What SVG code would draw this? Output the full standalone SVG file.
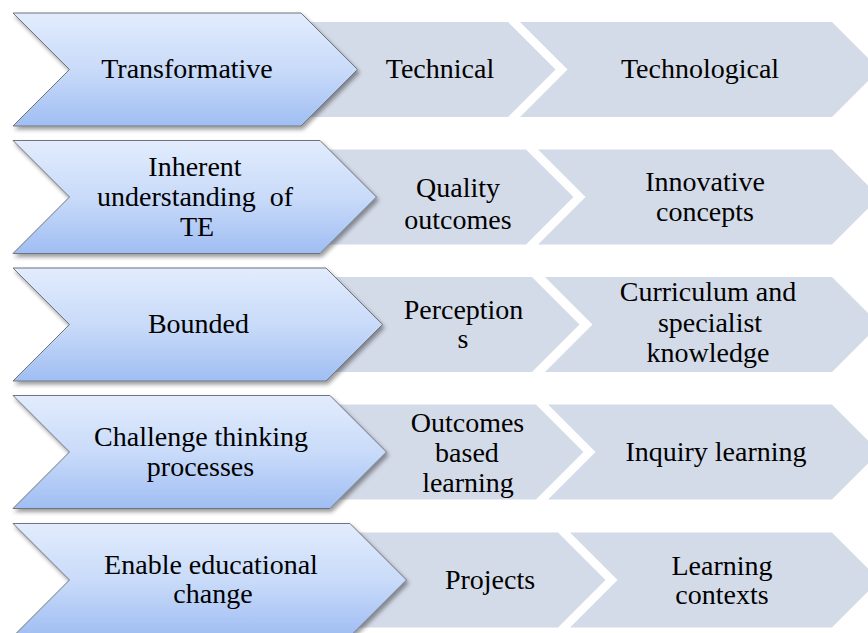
<svg xmlns="http://www.w3.org/2000/svg" width="868" height="633" viewBox="0 0 868 633">
  <defs>
    <linearGradient id="blueGrad" x1="0" y1="0" x2="0" y2="1">
      <stop offset="0" stop-color="#e2ecfd"/>
      <stop offset="0.5" stop-color="#c9dbf9"/>
      <stop offset="1" stop-color="#a0bef3"/>
    </linearGradient>
    <filter id="shadow" x="-5%" y="-10%" width="115%" height="130%">
      <feDropShadow dx="2" dy="3" stdDeviation="2" flood-color="#000" flood-opacity="0.4"/>
    </filter>
    <style>
      .blue { fill: url(#blueGrad); stroke: #6f747c; stroke-width: 1; filter: url(#shadow); }
      .gray { fill: #d4dbe8; stroke: none; }
      .lbl { font-family: "Liberation Serif", "Times New Roman", Tinos, "Noto Serif", "DejaVu Serif", serif; font-size: 28px; fill: #000; text-anchor: middle; }
    </style>
  </defs>
  <rect width="868" height="633" fill="#ffffff"/>

  <!-- Row 1 -->
  <g id="technological">
    <polygon class="gray" points="520,22 832,22 879.5,69.5 832,117 520,117 567.5,69.5"/>
    <text class="lbl" x="700" y="78">Technological</text>
  </g>
  <g id="technical">
    <polygon class="gray" points="300,22 508,22 555.5,69.5 508,117 300,117"/>
    <text class="lbl" x="440" y="78">Technical</text>
  </g>
  <g id="transformative">
    <polygon class="blue" points="13,13 301,13 357.5,69.5 301,126 13,126 69.5,69.5"/>
    <text class="lbl" x="187" y="78">Transformative</text>
  </g>

  <!-- Row 2 -->
  <g id="innovative-concepts">
    <polygon class="gray" points="538,149.5 832,149.5 879.5,197 832,244.5 538,244.5 585.5,197"/>
    <text class="lbl" x="705" y="191">Innovative</text>
    <text class="lbl" x="705" y="221">concepts</text>
  </g>
  <g id="quality-outcomes">
    <polygon class="gray" points="300,149.5 526,149.5 573.5,197 526,244.5 300,244.5"/>
    <text class="lbl" x="458" y="197">Quality</text>
    <text class="lbl" x="458" y="229">outcomes</text>
  </g>
  <g id="inherent-understanding">
    <polygon class="blue" points="13,140.5 320,140.5 376.5,197 320,253.5 13,253.5 69.5,197"/>
    <text class="lbl" x="195" y="175.5">Inherent</text>
    <text class="lbl" x="195" y="206" xml:space="preserve">understanding  of</text>
    <text class="lbl" x="197" y="236">TE</text>
  </g>

  <!-- Row 3 -->
  <g id="curriculum-knowledge">
    <polygon class="gray" points="545,277 832,277 879.5,324.5 832,372 545,372 592.5,324.5"/>
    <text class="lbl" x="708" y="301">Curriculum and</text>
    <text class="lbl" x="710" y="331.5">specialist</text>
    <text class="lbl" x="708" y="362">knowledge</text>
  </g>
  <g id="perceptions">
    <polygon class="gray" points="300,277 532,277 579.5,324.5 532,372 300,372"/>
    <text class="lbl" x="463.5" y="318.5">Perception</text>
    <text class="lbl" x="463" y="348">s</text>
  </g>
  <g id="bounded">
    <polygon class="blue" points="13,268 326,268 382.5,324.5 326,381 13,381 69.5,324.5"/>
    <text class="lbl" x="198.5" y="333">Bounded</text>
  </g>

  <!-- Row 4 -->
  <g id="inquiry-learning">
    <polygon class="gray" points="548,404.5 832,404.5 879.5,452 832,499.5 548,499.5 595.5,452"/>
    <text class="lbl" x="716" y="461">Inquiry learning</text>
  </g>
  <g id="outcomes-based-learning">
    <polygon class="gray" points="300,404.5 536,404.5 583.5,452 536,499.5 300,499.5"/>
    <text class="lbl" x="467.5" y="431.5">Outcomes</text>
    <text class="lbl" x="467" y="461.5">based</text>
    <text class="lbl" x="468" y="491.5">learning</text>
  </g>
  <g id="challenge-thinking">
    <polygon class="blue" points="13,395.5 330,395.5 386.5,452 330,508.5 13,508.5 69.5,452"/>
    <text class="lbl" x="201" y="446">Challenge thinking</text>
    <text class="lbl" x="200.5" y="476">processes</text>
  </g>

  <!-- Row 5 -->
  <g id="learning-contexts">
    <polygon class="gray" points="570,532.5 832,532.5 879.5,580 832,627.5 570,627.5 617.5,580"/>
    <text class="lbl" x="722" y="574.5">Learning</text>
    <text class="lbl" x="722" y="604">contexts</text>
  </g>
  <g id="projects">
    <polygon class="gray" points="320,532.5 558,532.5 605.5,580 558,627.5 320,627.5"/>
    <text class="lbl" x="490" y="589">Projects</text>
  </g>
  <g id="enable-change">
    <polygon class="blue" points="13,523.5 350,523.5 406.5,580 350,636.5 13,636.5 69.5,580"/>
    <text class="lbl" x="211" y="573.5">Enable educational</text>
    <text class="lbl" x="213" y="603">change</text>
  </g>
</svg>
